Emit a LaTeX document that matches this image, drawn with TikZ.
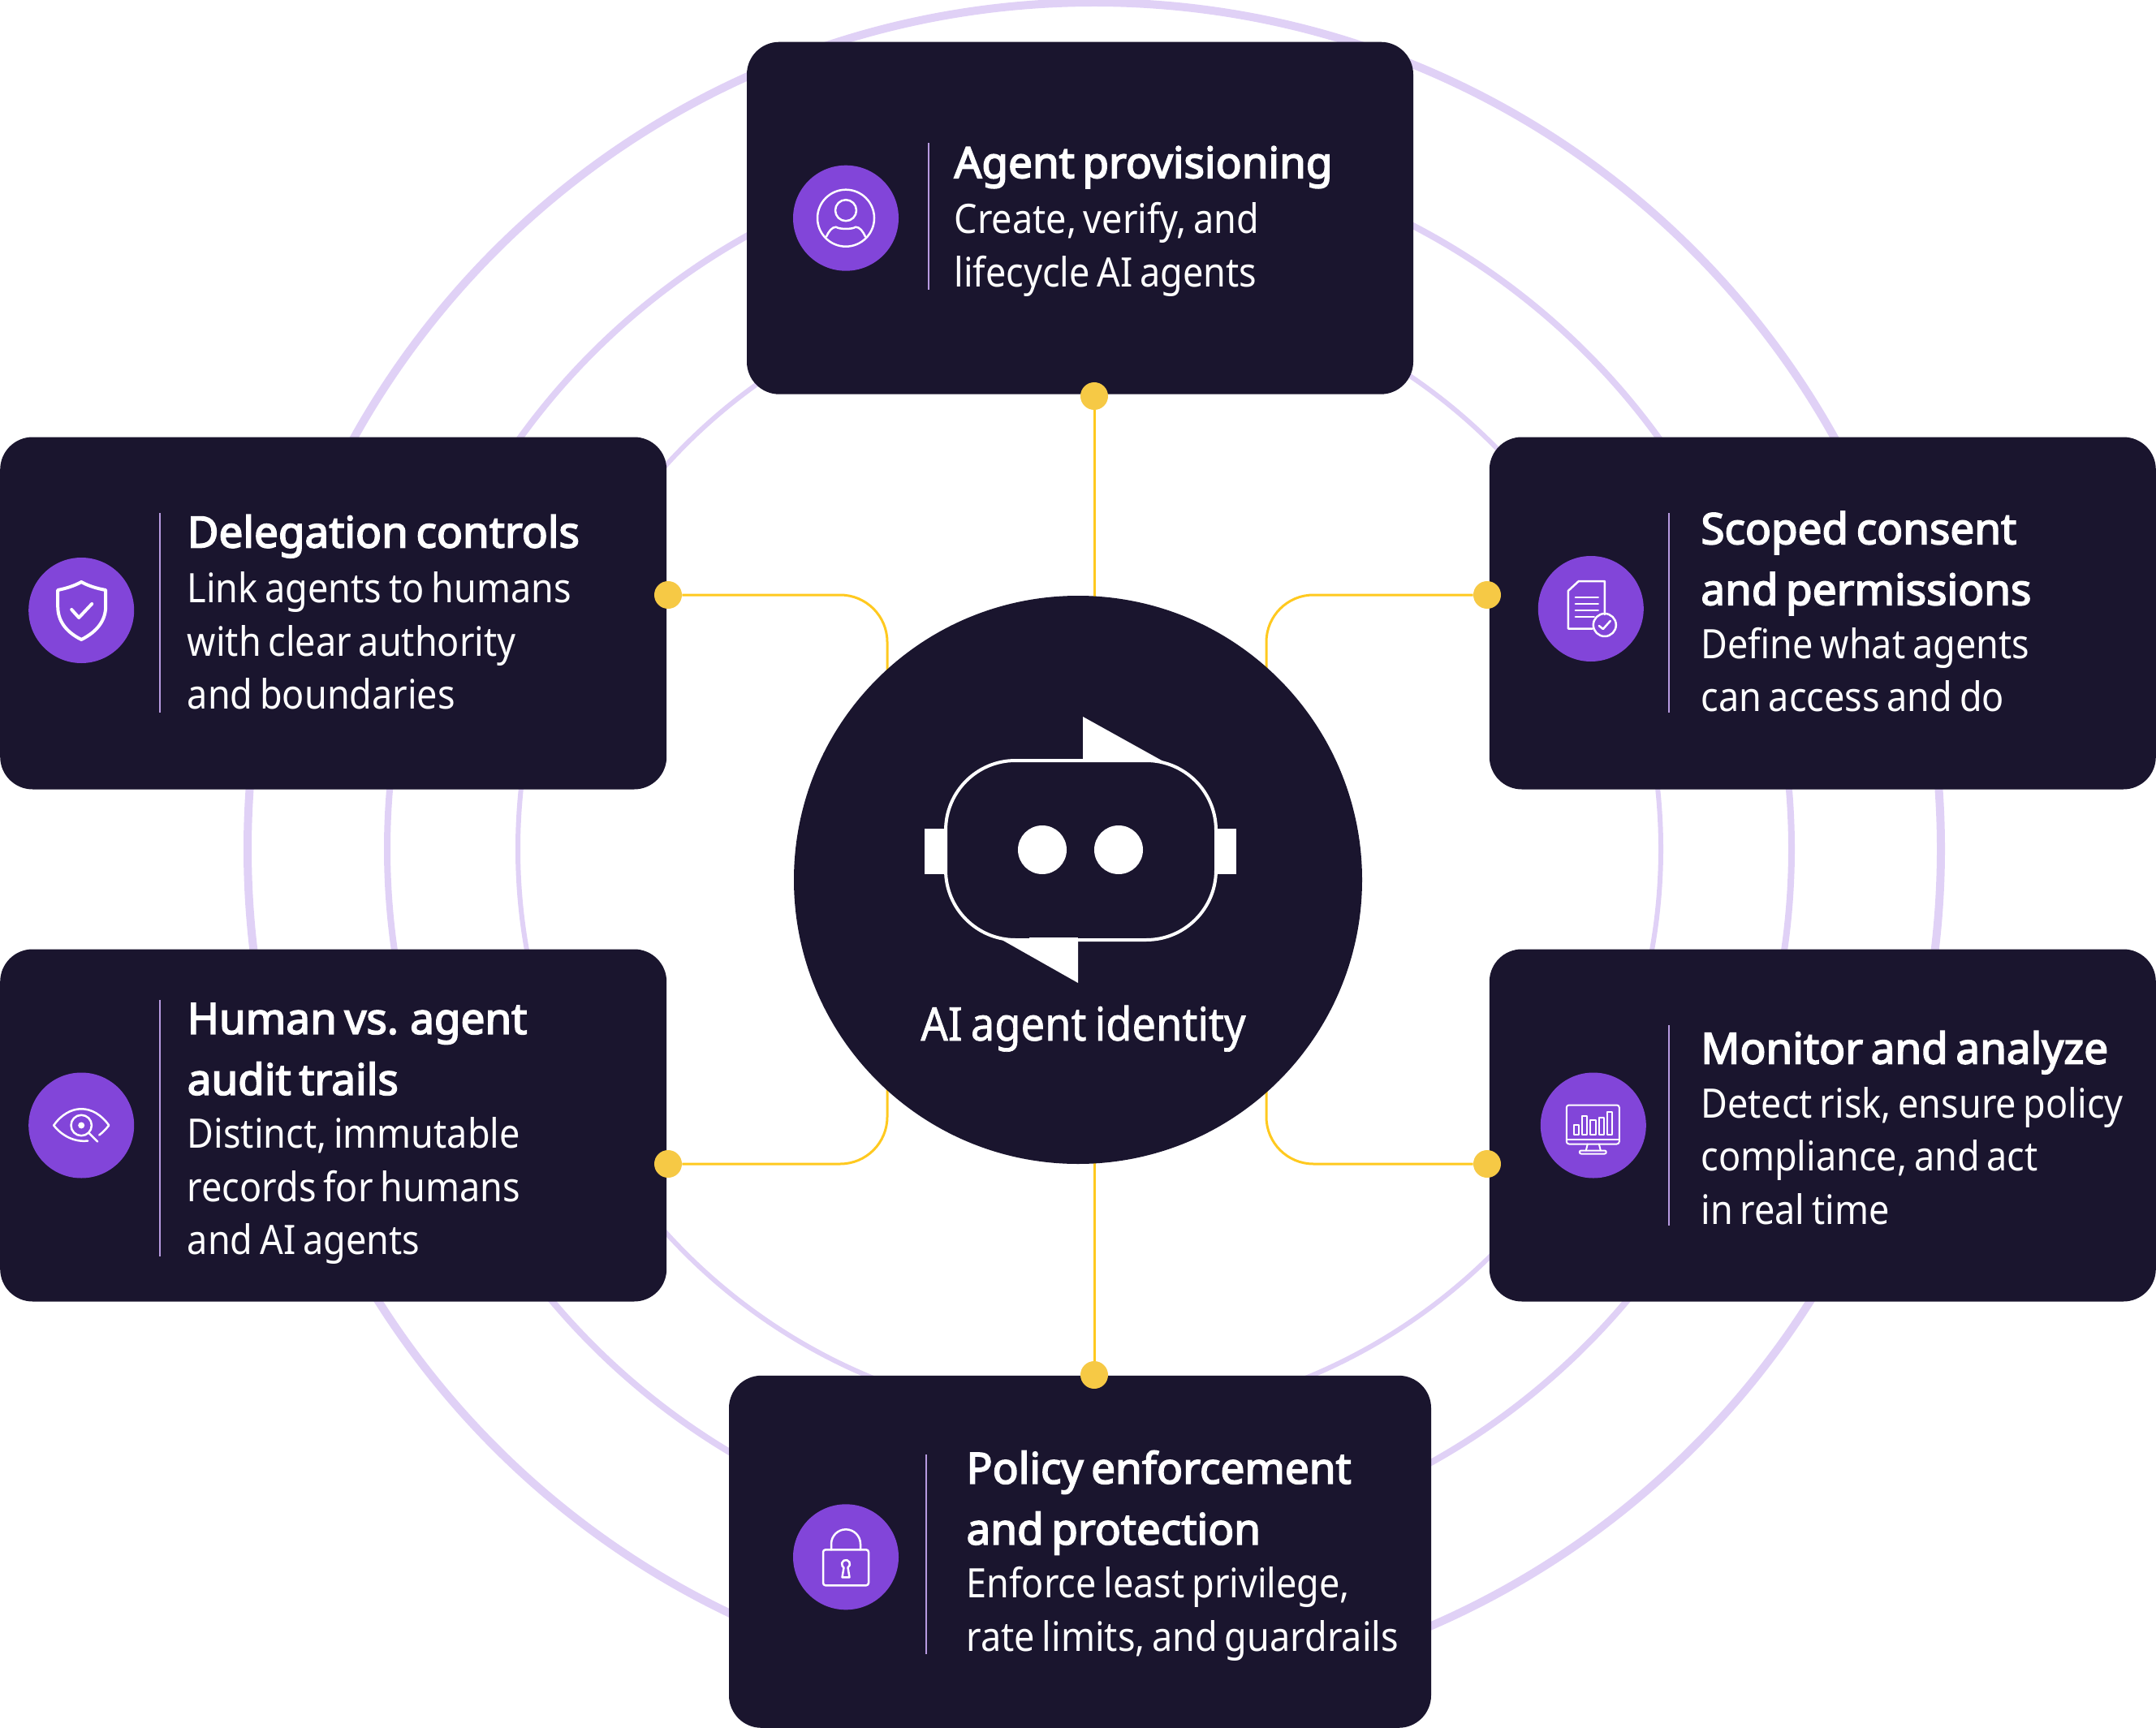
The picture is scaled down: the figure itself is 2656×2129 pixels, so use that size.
\documentclass[tikz,border=0pt]{standalone}
\usepackage{fontspec}
\setmainfont[FakeStretch=0.9, WordSpace=0.75]{Noto Sans}
\newfontfamily\titlefont[FakeStretch=1.0, WordSpace=0.7, FakeBold=3.2]{Noto Sans}
\newfontfamily\hubfont[FakeStretch=0.92, WordSpace=0.75, FakeBold=1.2]{Noto Sans}
\usetikzlibrary{positioning, backgrounds}

\definecolor{carddark}{HTML}{1A152E}
\definecolor{badgepurple}{HTML}{8245D9}
\definecolor{ringlilac}{HTML}{E0D1F6}
\definecolor{linkyellow}{HTML}{FFC91F}
\definecolor{jointyellow}{HTML}{F6C945}
\definecolor{dividerlilac}{HTML}{B79AE0}

\begin{document}
\begin{tikzpicture}[
    x=0.5pt, y=-0.5pt,
    hub/.style={circle, fill=carddark, minimum size=350pt, inner sep=0pt},
    hublabel/.style={text=white, inner sep=0pt, font=\hubfont\fontsize{28.5}{34}\selectfont},
    cardbox/.style={fill=carddark, rounded corners=20pt, minimum width=410.5pt, minimum height=217pt, inner sep=0pt},
    widebox/.style={cardbox, minimum width=432.5pt},
    badge/.style={circle, fill=badgepurple, minimum size=65pt, inner sep=0pt},
    divider/.style={fill=dividerlilac, minimum width=1pt, inner sep=0pt},
    titletext/.style={text=white, align=left, anchor=north west, inner sep=0pt, font=\titlefont\fontsize{26.5}{37.5}\selectfont, execute at begin node=\strut, execute at end node=\strut},
    bodytext/.style={text=white, align=left, anchor=north west, inner sep=0pt, font=\fontsize{25}{32.75}\selectfont, execute at begin node=\strut, execute at end node=\strut},
    joint/.style={circle, fill=jointyellow, minimum size=17pt, inner sep=0pt},
    link/.style={draw=linkyellow, line width=1.5pt},
    ring/.style={draw=ringlilac},
    iconline/.style={draw=white, line width=1.25pt, line cap=round, line join=round}
]
\useasboundingbox (0,0) rectangle (2656,2129);

% Central disc
\node[hub] (hub) at (1328,1084) {};
\node[hublabel, anchor=base, xshift=3.25pt, yshift=-99pt] (hubtext) at (hub.center) {AI agent identity};

% Robot face
\begin{scope}[shift={(hub.center)}]
\fill[white] (6,-201) -- (6,-146) -- (105,-146) -- cycle;
\fill[white] (0,127) -- (0,71) -- (-99,71) -- cycle;
\fill[white] (-189,-63) rectangle (-160,-7);
\fill[white] (169,-63) rectangle (195,-7);
\draw[draw=white, fill=carddark, line width=2pt, rounded corners=43pt] (-163,-147) rectangle (170,74);
\fill[white] (6,-149) rectangle (70,-146);
\fill[white] (0,71) rectangle (-60,74);
\fill[white] (-44,-37) circle (30);
\fill[white] (50,-37) circle (30);
\end{scope}

% Agent provisioning (top)
\node[cardbox, above=123.75pt of hub, xshift=1.25pt] (provbox) {};
\node[badge, right=28.5pt of provbox.west] (provbadge) {};
\node[divider, minimum height=90.5pt, right=17.5pt of provbadge, yshift=1.25pt] (provdiv) {};
\node[titletext, right=15pt of provdiv.north east, anchor=north west, yshift=4.5pt] (provtitle) {Agent provisioning};
\node[bodytext, below=3.5pt of provtitle.south west, anchor=north west] (provbody) {Create, verify, and\\lifecycle AI agents};
\begin{scope}[shift={(provbadge.center)}]
\draw[iconline] (0,0) circle (35);
\draw[iconline] (0,-9.5) circle (13);
\draw[iconline] (-24,23) .. controls (-21,16) and (-17,11) .. (-12,11) .. controls (-8,14) and (8,14) .. (12,11) .. controls (17,11) and (21,16) .. (24,23);
\end{scope}

% Delegation controls (upper left)
\node[cardbox, left=78pt of hub, yshift=164.25pt] (delegbox) {};
\node[badge, right=17.5pt of delegbox.west, yshift=1.75pt] (delegbadge) {};
\node[divider, minimum height=123pt, right=15pt of delegbadge, yshift=-1.5pt] (delegdiv) {};
\node[titletext, right=16pt of delegdiv.north east, anchor=north west, yshift=5pt] (delegtitle) {Delegation controls};
\node[bodytext, below=3.5pt of delegtitle.south west, anchor=north west] (delegbody) {Link agents to humans\\with clear authority\\and boundaries};
\begin{scope}[shift={(delegbadge.center)}]
\draw[iconline, line width=2pt] (0,-35) .. controls (-9,-30) and (-19,-27) .. (-29,-25) -- (-29,-5) .. controls (-29,12) and (-20,26) .. (0,36) .. controls (20,26) and (30,12) .. (30,-5) -- (30,-25) .. controls (19,-27) and (9,-30) .. cycle;
\draw[iconline, line width=2pt] (-12,-1) -- (-3,9) -- (13,-8);
\end{scope}

% Scoped consent (upper right)
\node[cardbox, right=78pt of hub, yshift=164.25pt] (scopebox) {};
\node[badge, right=30pt of scopebox.west, yshift=2.75pt] (scopebadge) {};
\node[divider, minimum height=123pt, right=14.5pt of scopebadge, yshift=-2.5pt] (scopediv) {};
\node[titletext, right=19pt of scopediv.north east, anchor=north west, yshift=1pt] (scopetitle) {Scoped consent\\and permissions};
\node[bodytext, below=2.25pt of scopetitle.south west, anchor=north west] (scopebody) {Define what agents\\can access and do};
\begin{scope}[shift={(scopebadge.center)}]
\draw[iconline] (2,24.5) -- (-28,24.5) -- (-28,-22) -- (-15,-34) -- (17,-34) -- (17,7);
\foreach \ya/\xb in {-14/9, -6/9, 2/9, 10/4}
    \draw[iconline] (-19,\ya) -- (\xb,\ya);
\draw[iconline] (17,20) circle (14);
\draw[iconline] (10,21) -- (15,25) -- (24,15);
\end{scope}

% Human vs. agent (lower left)
\node[cardbox, left=78pt of hub, yshift=-151.25pt] (humanbox) {};
\node[badge, right=17.5pt of humanbox.west] (humanbadge) {};
\node[divider, minimum height=158pt, right=15pt of humanbadge, yshift=-1.5pt] (humandiv) {};
\node[titletext, right=16pt of humandiv.north east, anchor=north west, yshift=-2.25pt] (humantitle) {Human vs. agent\\audit trails};
\node[bodytext, below=2.25pt of humantitle.south west, anchor=north west] (humanbody) {Distinct, immutable\\records for humans\\and AI agents};
\begin{scope}[shift={(humanbadge.center)}]
\draw[iconline] (8,19) .. controls (-8,21) and (-24,13) .. (-34,0) .. controls (-15,-27) and (15,-27) .. (34,0) .. controls (30,5) and (26,9) .. (22,12);
\draw[iconline] (0,0) circle (12.7);
\fill[white] (0,0) circle (4);
\draw[iconline] (9,9) -- (20,20);
\end{scope}

% Monitor and analyze (lower right)
\node[cardbox, right=78pt of hub, yshift=-151.25pt] (monbox) {};
\node[badge, right=31.5pt of monbox.west] (monbadge) {};
\node[divider, minimum height=123.5pt, right=13pt of monbadge] (mondiv) {};
\node[titletext, right=19pt of mondiv.north east, anchor=north west, yshift=2.5pt] (montitle) {Monitor and analyze};
\node[bodytext, below=2.75pt of montitle.south west, anchor=north west] (monbody) {Detect risk, ensure policy\\compliance, and act\\in real time};
\begin{scope}[shift={(monbadge.center)}]
\draw[iconline, line width=1pt, rounded corners=1.5pt] (-33,-25) rectangle (32,23);
\draw[iconline, line width=1pt] (-33,17) -- (32,17);
\foreach \xa/\xb/\yt in {-24/-18/-1, -14/-8/-12, -4/3/-7, 7/13/-10, 17/23/-17}
    \draw[iconline, line width=1pt] (\xa,\yt) rectangle (\xb,11);
\draw[iconline, line width=1pt] (-7,23) -- (-9,31);
\draw[iconline, line width=1pt] (7,23) -- (9,31);
\draw[iconline, line width=1pt, rounded corners=1pt] (-17,31) rectangle (16,35);
\end{scope}

% Policy enforcement (bottom)
\node[widebox, below=130pt of hub, xshift=1.25pt] (polbox) {};
\node[badge, right=39.5pt of polbox.west, yshift=-3.25pt] (polbadge) {};
\node[divider, minimum height=123pt, right=16pt of polbadge, yshift=1.5pt] (poldiv) {};
\node[titletext, right=24pt of poldiv.north east, anchor=north west, yshift=2.5pt] (poltitle) {Policy enforcement\\and protection};
\node[bodytext, below=2.25pt of poltitle.south west, anchor=north west] (polbody) {Enforce least privilege,\\rate limits, and guardrails};
\begin{scope}[shift={(polbadge.center)}]
\draw[iconline, rounded corners=1.5pt] (-28,-9) rectangle (28,35);
\draw[iconline] (-18,-9) -- (-18,-16) arc[start angle=180, end angle=360, radius=18] -- (18,-9);
\draw[iconline] (-2.5,13) -- (-4.5,25) -- (4.5,25) -- (2.5,13) arc[start angle=60, end angle=-240, radius=5];
\end{scope}

% Joints on the box edges
\node[joint] (provjoint) at (1348,488) {};
\node[joint] (poljoint) at (1348,1694) {};
\node[joint] (delegjoint) at (823,733) {};
\node[joint] (humanjoint) at (823,1434) {};
\node[joint] (scopejoint) at (1832,733) {};
\node[joint] (monjoint) at (1832,1434) {};

% Feet of the side links, hidden below the disc
\coordinate (leftfoot) at (1093,1084);
\coordinate (rightfoot) at (1560,1084);
\coordinate (outercentre) at (1348,1046);
\coordinate (innercentre) at (1342,1046);

\begin{pgfonlayer}{background}
\draw[ring, line width=3pt] (innercentre) circle (704);
\draw[ring, line width=4pt] (innercentre) circle (865);
\draw[ring, line width=5pt] (outercentre) circle (1043);
\draw[link] (provjoint) -- (provjoint |- hub);
\draw[link] (poljoint) -- (poljoint |- hub);
\draw[link, rounded corners=29pt] (delegjoint) -| (leftfoot);
\draw[link, rounded corners=29pt] (humanjoint) -| (leftfoot);
\draw[link, rounded corners=29pt] (scopejoint) -| (rightfoot);
\draw[link, rounded corners=29pt] (monjoint) -| (rightfoot);
\end{pgfonlayer}

\end{tikzpicture}
\end{document}
